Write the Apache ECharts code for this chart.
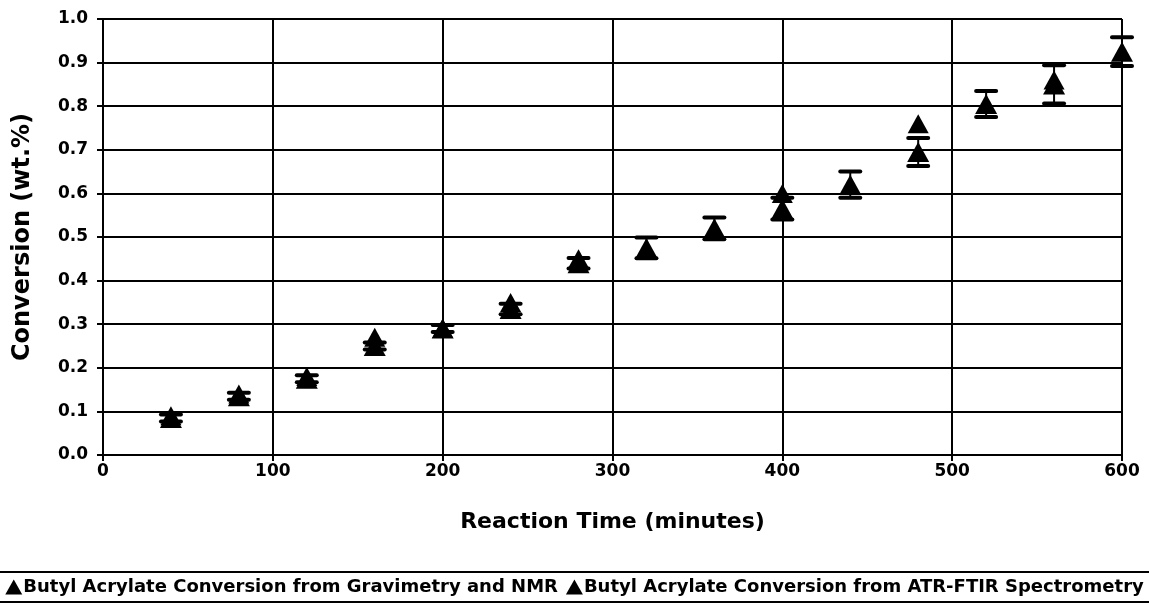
<!DOCTYPE html>
<html>
<head>
<meta charset="utf-8">
<script src="https://cdn.jsdelivr.net/npm/echarts@6/dist/echarts.min.js"></script>
<style>
html,body{margin:0;padding:0;background:#fff;}
#chart{width:1149px;height:607px;}
</style>
</head>
<body>
<div id="chart"></div>
<script>
// Reaction time (minutes)
const timesGrav = [40, 80, 120, 160, 200, 240, 280, 320, 360, 400, 440, 480, 520, 560, 600];
// Conversion from Gravimetry and NMR
const convGrav = [0.085, 0.135, 0.175, 0.25, 0.29, 0.335, 0.44, 0.475, 0.52, 0.565, 0.62, 0.695, 0.805, 0.85, 0.925];
// Error (+/-) on gravimetry/NMR conversion
const errGrav = [0.008, 0.008, 0.008, 0.008, 0.008, 0.012, 0.012, 0.024, 0.025, 0.025, 0.03, 0.032, 0.03, 0.044, 0.033];
// Conversion from ATR-FTIR spectrometry
const timesFtir = [40, 80, 120, 160, 200, 240, 280, 400, 480, 560];
const convFtir = [0.09, 0.14, 0.18, 0.27, 0.29, 0.35, 0.45, 0.60, 0.76, 0.86];

const nameGrav = 'Butyl Acrylate Conversion from Gravimetry and NMR';
const nameFtir = 'Butyl Acrylate Conversion from ATR-FTIR Spectrometry';
const xTitle = 'Reaction Time (minutes)';
const yTitle = 'Conversion (wt.%)';

const FONT = '"DejaVu Sans", "Liberation Sans", Arial, sans-serif';

const gravData = timesGrav.map((t, i) => [t, convGrav[i]]);
const ftirData = timesFtir.map((t, i) => [t, convFtir[i]]);
const errData = timesGrav.map((t, i) => [t, convGrav[i] - errGrav[i], convGrav[i] + errGrav[i]]);

const chart = echarts.init(document.getElementById('chart'), null, {renderer: 'canvas'});
chart.setOption({
  backgroundColor: '#fff',
  animation: false,
  grid: {left: 103, right: 27, top: 19, bottom: 152},
  xAxis: {
    type: 'value', min: 0, max: 600, interval: 100,
    name: xTitle, nameLocation: 'middle', nameGap: 56,
    nameTextStyle: {fontFamily: FONT, fontWeight: 'bold', fontSize: 22, color: '#000'},
    axisLine: {show: true, onZero: false, lineStyle: {color: '#000', width: 2}},
    axisTick: {show: true, inside: false, length: 6, lineStyle: {color: '#000', width: 2}},
    axisLabel: {fontFamily: FONT, fontWeight: 'bold', fontSize: 17, color: '#000', margin: 8},
    splitLine: {show: true, lineStyle: {color: '#000', width: 2}}
  },
  yAxis: {
    type: 'value', min: 0, max: 1, interval: 0.1,
    name: yTitle, nameLocation: 'middle', nameGap: 68, nameRotate: 90,
    nameTextStyle: {fontFamily: FONT, fontWeight: 'bold', fontSize: 24, color: '#000'},
    axisLine: {show: true, onZero: false, lineStyle: {color: '#000', width: 2}},
    axisTick: {show: true, inside: false, length: 6, lineStyle: {color: '#000', width: 2}},
    axisLabel: {fontFamily: FONT, fontWeight: 'bold', fontSize: 17, color: '#000', margin: 15,
      formatter: v => v.toFixed(1)},
    splitLine: {show: true, lineStyle: {color: '#000', width: 2}}
  },
  legend: {
    bottom: 6, left: 'center', width: 1149, padding: [5, 0],
    itemWidth: 17, itemHeight: 15, itemGap: 8,
    textStyle: {fontFamily: FONT, fontWeight: 'bold', fontSize: 18, color: '#000', padding: [0,0,0,-4]},
    data: [
      {name: nameGrav, icon: 'triangle', itemStyle: {color: '#000', opacity: 1}},
      {name: nameFtir, icon: 'triangle', itemStyle: {color: '#000', opacity: 1}}
    ]
  },
  graphic: [
    {type: 'line', shape: {x1: 0, y1: 572, x2: 1149, y2: 572}, style: {stroke: '#000', lineWidth: 2}},
    {type: 'line', shape: {x1: 0, y1: 602, x2: 1149, y2: 602}, style: {stroke: '#000', lineWidth: 2}}
  ],
  series: [
    {
      type: 'custom',
      name: 'err',
      data: errData,
      z: 3,
      renderItem: function (params, api) {
        const x = api.value(0);
        const lo = api.coord([x, api.value(1)]);
        const hi = api.coord([x, api.value(2)]);
        const hw = 10;
        return {
          type: 'group',
          children: [
            {type: 'line', shape: {x1: lo[0], y1: lo[1], x2: hi[0], y2: hi[1]}, style: {stroke: '#000', lineWidth: 2}},
            {type: 'line', shape: {x1: lo[0]-hw, y1: lo[1], x2: lo[0]+hw, y2: lo[1]}, style: {stroke: '#000', lineWidth: 4, lineCap: 'round'}},
            {type: 'line', shape: {x1: hi[0]-hw, y1: hi[1], x2: hi[0]+hw, y2: hi[1]}, style: {stroke: '#000', lineWidth: 4, lineCap: 'round'}}
          ]
        };
      }
    },
    {
      type: 'scatter', name: nameFtir, data: ftirData,
      symbol: 'triangle', symbolSize: [21, 19],
      itemStyle: {color: '#000', opacity: 1}, z: 4
    },
    {
      type: 'scatter', name: nameGrav, data: gravData,
      symbol: 'triangle', symbolSize: [22, 20],
      itemStyle: {color: '#000', opacity: 1}, z: 5
    }
  ]
});
</script>
</body>
</html>
